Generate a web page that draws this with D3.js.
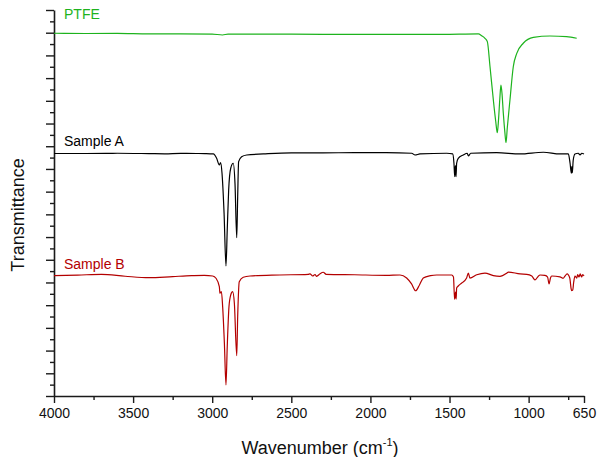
<!DOCTYPE html>
<html>
<head>
<meta charset="utf-8">
<script src="https://cdn.jsdelivr.net/npm/d3@7"></script>
<style>
  html, body { margin: 0; padding: 0; background: #fff; }
  svg { display: block; font-family: "Liberation Sans", Arial, Helvetica, sans-serif; }
</style>
</head>
<body>
<svg id="chart" width="597" height="457"></svg>
<script>
// ---- data (wavenumber cm^-1, offset transmittance in axis units) ----
const xMajorTicks = [4000, 3500, 3000, 2500, 2000, 1500, 1000, 650];
const xMinorTicks = [3750, 3250, 2750, 2250, 1750, 1250, 750];
const yTicks = d3.range(0, 35, 1);
const seriesNames = ["PTFE", "Sample A", "Sample B"];
const seriesColors = ["#1db31d", "#000000", "#b30000"];

const ptfe = [[4000,31.95],[3800,31.93],[3600,31.94],[3400,31.9],[3200,31.9],[3000,31.88],[2935,31.8],[2900,31.88],[2700,31.87],[2500,31.87],[2300,31.86],[2100,31.86],[1900,31.85],[1700,31.86],[1500,31.86],[1400,31.88],[1318,31.89],[1297,31.74],[1276,31.51],[1261,31.21],[1244,29.0],[1223,26.07],[1208,24.2],[1198,23.19],[1190,24.4],[1182,26.2],[1175,27.39],[1168,26.6],[1160,24.9],[1150,23.2],[1143,22.31],[1135,23.6],[1118,26.07],[1097,29.0],[1075,30.18],[1034,31.07],[970,31.59],[865,31.71],[760,31.65],[696,31.51]];

const sampleA = [[4000,21.36],[3800,21.36],[3600,21.38],[3400,21.35],[3300,21.33],[3200,21.37],[3100,21.36],[3046,21.35],[2993,21.32],[2972,20.94],[2955,20.35],[2947,20.55],[2938,19.62],[2925,16.09],[2913,11.45],[2905,14.62],[2896,18.14],[2883,20.06],[2867,20.5],[2856,18.73],[2845,13.94],[2839,17.55],[2833,20.64],[2814,21.08],[2782,21.23],[2677,21.32],[2500,21.42],[2300,21.42],[2100,21.43],[1900,21.43],[1739,21.38],[1718,21.23],[1687,21.32],[1518,21.38],[1480,21.32],[1472,20.5],[1467,19.32],[1463,20.3],[1459,19.32],[1455,20.5],[1445,20.94],[1413,21.23],[1388,21.38],[1381,21.14],[1366,21.38],[1202,21.43],[1054,21.32],[907,21.47],[802,21.32],[749,21.32],[738,20.5],[730,19.62],[727,20.2],[724,19.67],[718,20.79],[707,21.32],[686,21.38],[675,21.23],[664,21.38],[650,21.32]];

const sampleB = [[4000,10.6],[3850,10.65],[3700,10.72],[3550,10.55],[3400,10.42],[3250,10.52],[3130,10.6],[3050,10.63],[2997,10.57],[2976,10.37],[2955,9.63],[2951,9.05],[2942,9.19],[2934,7.87],[2923,4.64],[2913,0.97],[2905,4.34],[2894,7.87],[2883,8.9],[2871,9.19],[2860,8.17],[2845,3.55],[2839,6.99],[2829,10.07],[2804,10.46],[2761,10.57],[2572,10.66],[2393,10.72],[2382,10.75],[2365,10.57],[2350,10.7],[2340,10.54],[2320,10.75],[2298,10.9],[2280,10.72],[2100,10.68],[1900,10.63],[1813,10.66],[1771,10.39],[1740,9.87],[1714,9.27],[1690,9.78],[1666,10.39],[1620,10.6],[1581,10.66],[1486,10.66],[1475,10.48],[1468,8.52],[1462,9.16],[1458,8.54],[1455,9.51],[1445,9.69],[1423,9.95],[1392,10.39],[1381,10.83],[1371,10.39],[1328,10.68],[1276,10.83],[1223,10.6],[1181,10.54],[1139,10.81],[1128,10.92],[1054,10.75],[1012,10.72],[980,10.57],[960,10.22],[940,10.53],[928,10.66],[897,10.62],[880,10.48],[871,9.87],[862,10.39],[854,10.57],[802,10.5],[782,10.37],[770,10.57],[757,10.75],[740,10.39],[732,9.51],[728,9.27],[721,9.34],[715,10.04],[707,10.57],[696,10.39],[690,10.7],[682,10.48],[674,10.75],[665,10.48],[658,10.7],[650,10.57]];

const series = [ptfe, sampleA, sampleB];
const labelY = [33.2, 22.0, 11.2];

// ---- layout ----
const svg = d3.select("#chart");
const x = d3.scaleLinear().domain([4000, 650]).range([54, 584]);
const y = d3.scaleLinear().domain([0, 34]).range([396, 10]);
const axisColor = "#1a1a1a";

// axes
const gx = svg.append("g").attr("transform", `translate(0,${y(0)})`)
  .call(d3.axisBottom(x).tickValues(xMajorTicks).tickSize(7).tickSizeOuter(0).tickPadding(5).tickFormat(d3.format("d")));
svg.append("g").attr("transform", `translate(0,${y(0)})`)
  .call(d3.axisBottom(x).tickValues(xMinorTicks).tickSize(4).tickSizeOuter(0).tickFormat(""))
  .select(".domain").remove();

const gy = svg.append("g").attr("transform", `translate(${x(4000)},0)`)
  .call(d3.axisLeft(y).tickValues(yTicks).tickSize(4).tickSizeOuter(0).tickFormat(""));
gy.selectAll(".tick line").attr("x2", d => d % 2 === 0 ? -8 : -4);

svg.selectAll(".domain").attr("stroke", axisColor).attr("stroke-width", 1.6);
svg.selectAll(".tick line").attr("stroke", axisColor).attr("stroke-width", 1.4);
gx.selectAll(".tick text").attr("font-size", 14).attr("fill", "#111")
  .attr("font-family", "Liberation Sans, Arial, sans-serif");

// lines
const line = d3.line().x(d => x(d[0])).y(d => y(d[1])).curve(d3.curveMonotoneX);
series.forEach((s, i) => {
  svg.append("path").datum(s)
    .attr("d", line)
    .attr("fill", "none")
    .attr("stroke", seriesColors[i])
    .attr("stroke-width", 1.2)
    .attr("stroke-linejoin", "round");
  svg.append("text")
    .attr("x", 64).attr("y", y(labelY[i]))
    .attr("font-size", 14)
    .attr("fill", seriesColors[i])
    .text(seriesNames[i]);
});

// axis titles
const xt = svg.append("text")
  .attr("x", 320).attr("y", 454)
  .attr("text-anchor", "middle")
  .attr("font-size", 18)
  .attr("fill", "#111");
xt.append("tspan").text("Wavenumber (cm");
xt.append("tspan").attr("font-size", 11).attr("dy", -8).text("-1");
xt.append("tspan").attr("dy", 8).text(")");

svg.append("text")
  .attr("transform", `translate(23.5,${215}) rotate(-90)`)
  .attr("text-anchor", "middle")
  .attr("font-size", 18)
  .attr("fill", "#111")
  .text("Transmittance");
</script>
</body>
</html>
